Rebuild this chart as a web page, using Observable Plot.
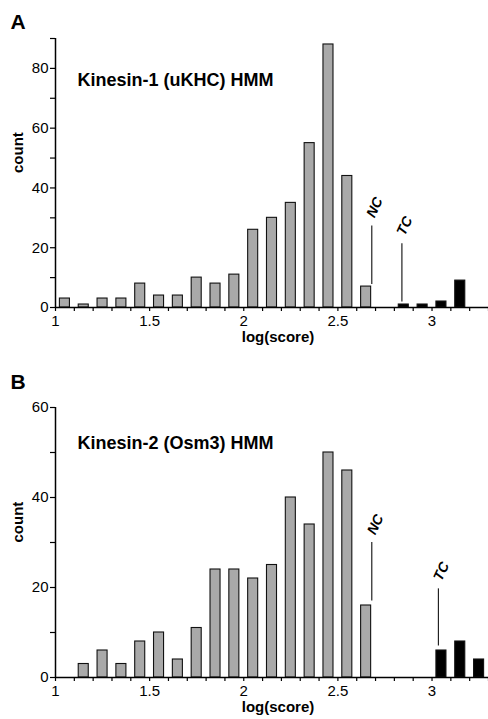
<!DOCTYPE html>
<html><head><meta charset="utf-8">
<script src="https://cdn.jsdelivr.net/npm/d3@7"></script>
<script src="https://cdn.jsdelivr.net/npm/@observablehq/plot@0.6"></script>
<style>
body{margin:0;background:#fff;}
#chart{width:488px;}
#chart svg{display:block;}
</style></head><body><div id="chart"></div>
<script>
// bin starts (log(score)), bin width 0.1
const binStart = [1.0,1.1,1.2,1.3,1.4,1.5,1.6,1.7,1.8,1.9,2.0,2.1,2.2,2.3,2.4,2.5,2.6,2.7,2.8,2.9,3.0,3.1,3.2];
// Panel A: Kinesin-1 (uKHC) HMM
const countA_NC = [3,1,3,3,8,4,4,10,8,11,26,30,35,55,88,44,7,0,0,0,0,0,0];
const countA_TC = [0,0,0,0,0,0,0,0,0,0,0,0,0,0,0,0,0,0,1,1,2,9,0];
// Panel B: Kinesin-2 (Osm3) HMM
const countB_NC = [0,3,6,3,8,10,4,11,24,24,22,25,40,34,50,46,16,0,0,0,0,0,0];
const countB_TC = [0,0,0,0,0,0,0,0,0,0,0,0,0,0,0,0,0,0,0,0,6,8,4];

const titles = ["Kinesin-1 (uKHC) HMM", "Kinesin-2 (Osm3) HMM"];
const panelLetters = ["A", "B"];
const yMax = [90, 60];
const xTickLabels = [1, 1.5, 2, 2.5, 3];
const xLabel = "log(score)";
const yLabel = "count";

// annotation markers (data units)
const noteLabels = ["NC", "TC"];
const noteXA = [2.68, 2.84], noteLowA = [7.7, 1.8], noteHighA = [27.3, 21.3];
const noteTextXA = [2.695, 2.855], noteTextYA = [33.5, 27.3];
const noteXB = [2.68, 3.034], noteLowB = [17, 7], noteHighB = [30, 19.7];
const noteTextXB = [2.70, 3.05], noteTextYB = [34, 23.6];

const FONT = "'Liberation Sans', Arial, Helvetica, sans-serif";

function panel(cfg) {
  const bars = binStart.map((b, i) => ({x1: b, x2: b + 0.1, y: cfg.nc[i], tc: false}))
    .concat(binStart.map((b, i) => ({x1: b, x2: b + 0.1, y: cfg.tc[i], tc: true})))
    .filter(d => d.y > 0);
  const notes = noteLabels.map((l, i) => ({label: l, x: cfg.noteX[i], y1: cfg.low[i], y2: cfg.high[i], tx: cfg.tx[i], ty: cfg.ty[i]}));
  const minor = d3.range(10, 34).map(d => d / 10);
  return Plot.plot({
    width: 488,
    height: cfg.height,
    marginLeft: 55,
    marginRight: 0,
    marginTop: cfg.mt,
    marginBottom: cfg.mb,
    style: {fontFamily: FONT, fontSize: "15px", color: "black", background: "white"},
    x: {domain: [1, 3.3]},
    y: {domain: [0, cfg.ymax]},
    marks: [
      Plot.rectY(bars, {x1: "x1", x2: "x2", y: "y", insetLeft: 4.4, insetRight: 4.4,
        fill: d => d.tc ? "#000" : "#a9a9a9", stroke: "#111", strokeWidth: 1.1}),
      Plot.ruleY([0], {stroke: "black", strokeWidth: 1.5}),
      Plot.ruleX([1], {y1: 0, y2: cfg.ymax, stroke: "black", strokeWidth: 1.5}),
      Plot.axisY({ticks: d3.range(0, cfg.ymax + 1, 10), tickFormat: d => d % 20 ? "" : d,
        tickSize: 5, tickPadding: 2, fontSize: 15, label: null, strokeWidth: 1.2}),
      Plot.axisX({ticks: minor, tickFormat: d => xTickLabels.some(v => Math.abs(v - d) < 1e-9) ? String(d) : "",
        tickSize: 4, tickPadding: 3.5, fontSize: 15, label: null, strokeWidth: 1.2}),
      Plot.ruleX(notes, {x: "x", y1: "y1", y2: "y2", stroke: "#222", strokeWidth: 1.2}),
      Plot.text(notes, {x: "tx", y: "ty", text: "label", rotate: -65, fontSize: 14,
        fontWeight: "bold", fontStyle: "italic", textAnchor: "middle", lineAnchor: "middle"}),
      Plot.text([cfg.title], {frameAnchor: "top-left", dx: 22, dy: cfg.titleDy, lineAnchor: "bottom",
        textAnchor: "start", fontSize: 18, fontWeight: "bold"}),
      Plot.text([cfg.letter], {frameAnchor: "top-left", dx: -45, dy: cfg.letterDy, lineAnchor: "bottom",
        textAnchor: "start", fontSize: 21, fontWeight: "bold"}),
      Plot.text([yLabel], {frameAnchor: "left", dx: -37, rotate: -90, fontSize: 15, fontWeight: "bold"}),
      Plot.text([xLabel], {frameAnchor: "bottom", dx: 6, dy: cfg.xlDy, fontSize: 15, fontWeight: "bold"})
    ]
  });
}

const chart = document.getElementById("chart");
chart.appendChild(panel({height: 360, mt: 38, mb: 53, ymax: yMax[0], nc: countA_NC, tc: countA_TC,
  noteX: noteXA, low: noteLowA, high: noteHighA, tx: noteTextXA, ty: noteTextYA,
  title: titles[0], letter: panelLetters[0], titleDy: 47, letterDy: -10, xlDy: 34}));
chart.appendChild(panel({height: 359, mt: 47, mb: 42, ymax: yMax[1], nc: countB_NC, tc: countB_TC,
  noteX: noteXB, low: noteLowB, high: noteHighB, tx: noteTextXB, ty: noteTextYB,
  title: titles[1], letter: panelLetters[1], titleDy: 41, letterDy: -19, xlDy: 34}));
</script></body></html>
